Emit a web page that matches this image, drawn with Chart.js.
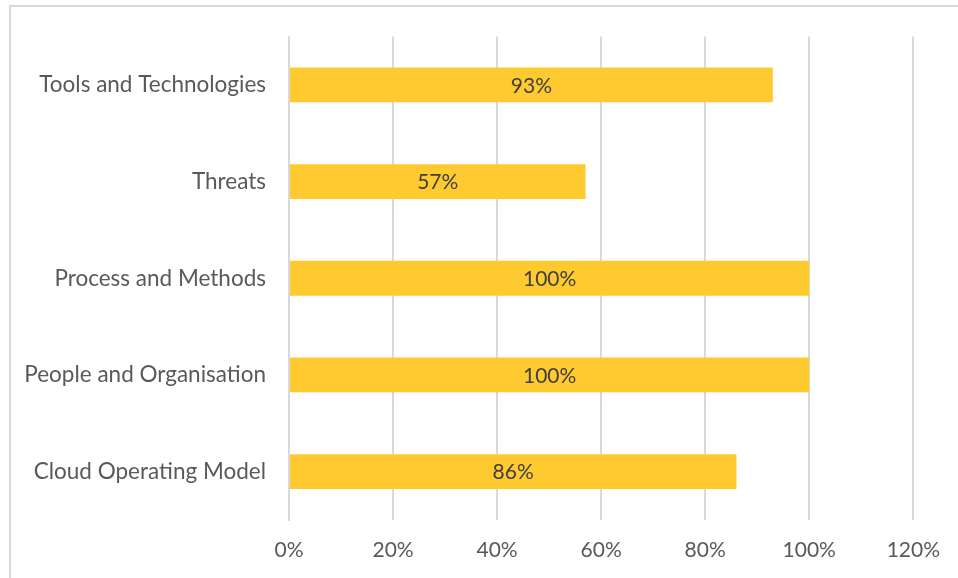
<!DOCTYPE html>
<html>
<head>
<meta charset="utf-8">
<script src="https://cdn.jsdelivr.net/npm/chart.js@4.4.1/dist/chart.umd.min.js"></script>
<style>
  html, body { margin: 0; padding: 0; background: #ffffff; }
  #wrap { width: 958px; height: 578px; position: relative; }
</style>
</head>
<body>
<div id="wrap"><canvas id="chart" width="958" height="578"></canvas></div>
<script>
// Categories listed top to bottom
const categories = [
  'Tools and Technologies',
  'Threats',
  'Process and Methods',
  'People and Organisation',
  'Cloud Operating Model'
];
// Share per category, in percent
const values = [93, 57, 100, 100, 86];
// Axis range and step, in percent
const axisMin = 0;
const axisMax = 120;
const axisStep = 20;

const FONT = 'Lato, "Open Sans", sans-serif';
const TEXT = '#595959';

// Outer frame lines of the chart area
const framePlugin = {
  id: 'frame',
  beforeDraw(chart) {
    const ctx = chart.ctx;
    ctx.save();
    ctx.fillStyle = '#d9d9d9';
    ctx.fillRect(9, 5, 2, chart.height - 5);
    ctx.fillRect(9, 5, chart.width - 9, 2);
    ctx.restore();
  }
};

// Value text centred on each bar
const barLabelPlugin = {
  id: 'barLabels',
  afterDatasetsDraw(chart) {
    const ctx = chart.ctx;
    const meta = chart.getDatasetMeta(0);
    ctx.save();
    ctx.font = '21px ' + FONT;
    ctx.fillStyle = '#404040';
    ctx.textAlign = 'center';
    ctx.textBaseline = 'middle';
    meta.data.forEach((bar, i) => {
      const cx = (bar.x + bar.base) / 2;
      ctx.fillText(values[i] + '%', cx, bar.y + 1);
    });
    ctx.restore();
  }
};

new Chart(document.getElementById('chart'), {
  type: 'bar',
  data: {
    labels: categories,
    datasets: [{
      data: values,
      backgroundColor: '#ffca30',
      borderWidth: 0,
      barPercentage: 0.6,
      categoryPercentage: 0.6
    }]
  },
  options: {
    indexAxis: 'y',
    responsive: false,
    animation: false,
    devicePixelRatio: 1,
    layout: { padding: { top: 35, right: 44, bottom: 0, left: 0 } },
    plugins: {
      legend: { display: false },
      tooltip: { enabled: false }
    },
    scales: {
      x: {
        min: axisMin,
        max: axisMax,
        ticks: {
          stepSize: axisStep,
          color: TEXT,
          font: { family: FONT, size: 21 },
          padding: 18,
          callback: v => v + '%'
        },
        grid: { color: '#d9d9d9', lineWidth: 2, drawTicks: false },
        border: { display: false },
        afterFit(scale) { scale.height = 58; }
      },
      y: {
        ticks: {
          color: TEXT,
          font: { family: FONT, size: 22.5 },
          padding: 23
        },
        grid: { display: false, drawTicks: false },
        border: { display: true, color: '#d9d9d9', width: 2 },
        afterFit(scale) { scale.width = 289; }
      }
    }
  },
  plugins: [framePlugin, barLabelPlugin]
});
</script>
</body>
</html>
